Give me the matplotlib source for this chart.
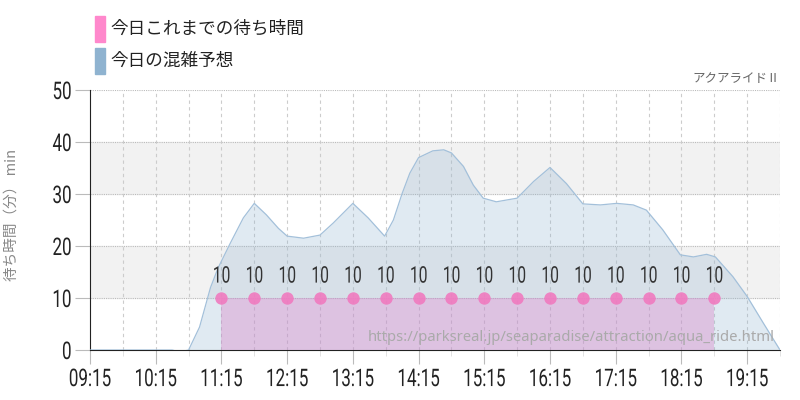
import matplotlib
matplotlib.use("Agg")
import matplotlib.pyplot as plt
from matplotlib.patches import Rectangle
from matplotlib.patheffects import AbstractPathEffect
from matplotlib.transforms import Affine2D

plt.rcParams['font.family'] = ['Noto Sans CJK JP', 'DejaVu Sans']

# forecast (今日の混雑予想): minutes after 09:15 and wait in minutes
forecast_min = [0, 30, 60, 75, 82, 90, 100, 110, 117, 128, 140, 150, 161, 172, 180, 195,
                210, 222, 240, 254, 269, 277, 285, 292, 300, 313, 323, 330, 341, 350, 359,
                371, 390, 405, 420, 435, 450, 466, 481, 496, 508, 523, 539, 551, 563,
                571, 587, 600, 615, 630]
forecast_val = [0, 0, 0, 0, -0.4, 0, 4.4, 12, 15.8, 20.5, 25.4, 28.2, 26, 23.4, 21.9, 21.5,
                22.1, 24.4, 28.2, 25.4, 21.9, 25, 30.1, 34, 37, 38.3, 38.5, 37.9, 35.3, 31.7,
                29.2, 28.5, 29.2, 32.4, 35.1, 32, 28.1, 27.9, 28.2, 27.9, 26.9, 23.1, 18.3,
                17.9, 18.4, 17.9, 14.1, 10.3, 5.1, 0]

# actual waits (今日これまでの待ち時間), 11:15 .. 18:45 every 30 min
actual_min = [120, 150, 180, 210, 240, 270, 300, 330, 360, 390, 420, 450, 480, 510, 540, 570]
actual_val = [10, 10, 10, 10, 10, 10, 10, 10, 10, 10, 10, 10, 10, 10, 10, 10]

tick_min = [0, 60, 120, 180, 240, 300, 360, 420, 480, 540, 600]
tick_lbl = ["09:15", "10:15", "11:15", "12:15", "13:15", "14:15",
            "15:15", "16:15", "17:15", "18:15", "19:15"]


class Squeeze(AbstractPathEffect):
    """draw text narrower (the site uses a condensed face we don't have)"""
    def __init__(self, sx=0.7, anchor='center'):
        super().__init__()
        self.sx = sx
        self.anchor = anchor

    def draw_path(self, renderer, gc, tpath, affine, rgbFace=None):
        ext = tpath.get_extents()
        if self.anchor == 'right':
            x0 = ext.x1
        elif self.anchor == 'left':
            x0 = ext.x0
        else:
            x0 = (ext.x0 + ext.x1) / 2
        t = Affine2D().translate(-x0, 0).scale(self.sx, 1).translate(x0, 0) + affine
        renderer.draw_path(gc, tpath, t, rgbFace)


fig = plt.figure(figsize=(8, 4), dpi=100)
ax = fig.add_axes([0.1125, 0.125, 0.8625, 0.65])

ax.set_xlim(0, 630)
ax.set_ylim(0, 50)

# gray bands + grid
for lo in (10, 30):
    ax.axhspan(lo, lo + 10, color='#f2f2f2', zorder=0)
for y in (10, 20, 30, 40, 50):
    ax.axhline(y, color='#bbbbbb', lw=0.8, ls=(0, (1, 1)), zorder=1)
for x in range(30, 631, 30):
    ax.axvline(x, color='#cccccc', lw=0.8, ls=(0, (3, 3)), zorder=1)

ax.fill_between(forecast_min, forecast_val, 0, color='#8fb3d0', alpha=0.27, lw=0, zorder=2)
ax.plot(forecast_min, forecast_val, color='#a3c0da', lw=0.9, zorder=3)

ax.fill_between(actual_min, actual_val, 0, color='#d986c8', alpha=0.4, lw=0, zorder=4)
ax.scatter(actual_min, actual_val, s=80, color='#f07abf', alpha=0.9, lw=0, zorder=5)
for x, v in zip(actual_min, actual_val):
    ax.text(x, v + 2.0, str(v), ha='center', va='bottom', family='Roboto',
            fontsize=16.5, color='#333333', zorder=6,
            path_effects=[Squeeze(0.68, 'center')])

for s in ('top', 'right'):
    ax.spines[s].set_visible(False)
ax.spines['left'].set_color('#222222')
ax.spines['bottom'].set_color('#222222')

ax.set_yticks([0, 10, 20, 30, 40, 50])
ax.set_xticks(tick_min)
ax.set_xticks(range(30, 631, 60), minor=True)
ax.set_xticklabels(tick_lbl)
ax.tick_params(axis='y', length=11, pad=2, color='#bbbbbb', labelcolor='#222222')
ax.tick_params(axis='x', which='major', length=10, pad=3, color='#bbbbbb', labelcolor='#222222')
ax.tick_params(axis='x', which='minor', length=4, color='#dddddd')
for lab in ax.get_xticklabels():
    lab.set_family('Roboto')
    lab.set_fontsize(17.5)
    lab.set_path_effects([Squeeze(0.7, 'center')])
for lab in ax.get_yticklabels():
    lab.set_family('Roboto')
    lab.set_fontsize(17.5)
    lab.set_path_effects([Squeeze(0.7, 'right')])

ax.set_ylabel('待ち時間（分） min', fontsize=10.5, color='#888888')
ax.yaxis.set_label_coords(-0.104, 0.52)

ax.text(1.0, 1.02, 'アクアライドⅡ', transform=ax.transAxes, ha='right', va='bottom',
        fontsize=9, color='#666666')
ax.text(0.993, 0.02, 'https://parksreal.jp/seaparadise/attraction/aqua_ride.html',
        transform=ax.transAxes, ha='right', va='bottom', fontsize=10.7, color='#aaaaaa',
        family=['Noto Sans', 'DejaVu Sans'], zorder=7)

# legend
fig.patches.append(Rectangle((95 / 800, 1 - 42 / 400), 10 / 800, 26 / 400,
                             transform=fig.transFigure, color='#ff88cc'))
fig.patches.append(Rectangle((95 / 800, 1 - 74 / 400), 10 / 800, 26 / 400,
                             transform=fig.transFigure, color='#8fb3d0'))
fig.text(110 / 800, 1 - 29 / 400, '今日これまでの待ち時間', fontsize=12.7, va='center', color='#222222')
fig.text(110 / 800, 1 - 61 / 400, '今日の混雑予想', fontsize=12.7, va='center', color='#222222')

fig.savefig('out.png', dpi=100)
